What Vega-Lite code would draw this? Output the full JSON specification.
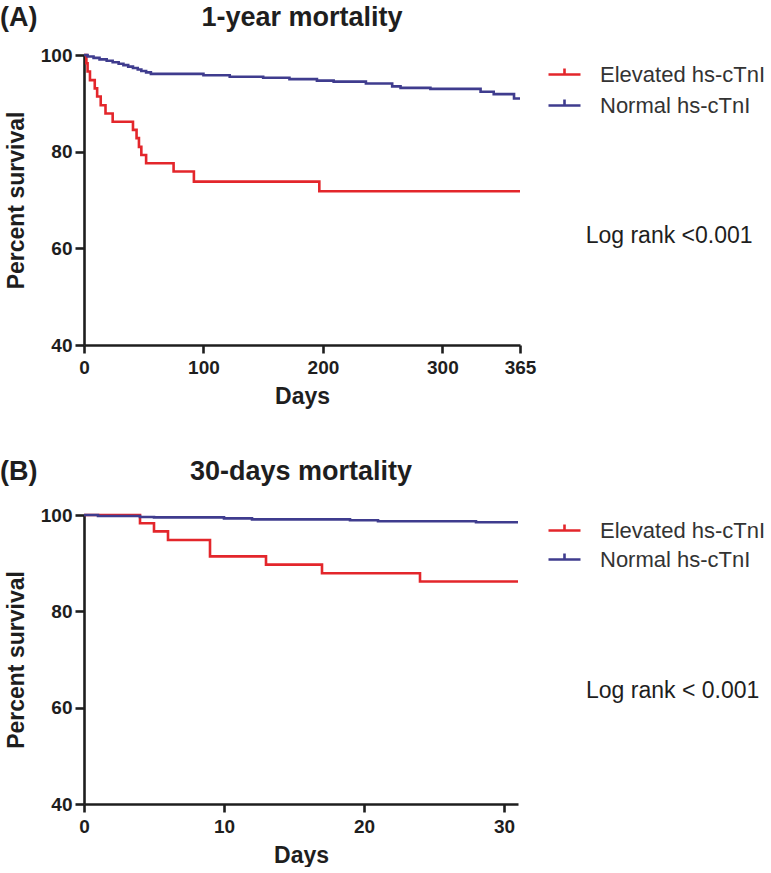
{
  "$schema": "https://vega.github.io/schema/vega-lite/v6.json",
  "padding": {"left": 0, "top": 3, "right": 0, "bottom": 0},
  "background": "white",
  "config": {
    "view": {"stroke": null},
    "font": "Liberation Sans",
    "axis": {
      "grid": false,
      "domainColor": "#1e1e1e",
      "domainWidth": 2.6,
      "tickColor": "#1e1e1e",
      "tickWidth": 2.6,
      "labelFont": "Liberation Sans",
      "labelFontSize": 19,
      "labelFontWeight": "bold",
      "labelColor": "#1e1e1e",
      "titleFont": "Liberation Sans",
      "titleFontSize": 23,
      "titleFontWeight": "bold",
      "titleColor": "#1e1e1e"
    },
    "axisX": {"tickSize": 8, "labelPadding": 5, "titlePadding": 8, "labelFlush": false},
    "axisY": {"tickSize": 9, "labelPadding": 3, "titlePadding": 12},
    "legend": {
      "orient": "none",
      "title": null,
      "symbolType": "M-1,0H1M0,-0.38V0.08",
      "symbolSize": 1024,
      "symbolStrokeWidth": 2.6,
      "labelFont": "Liberation Sans",
      "labelFontSize": 22,
      "labelColor": "#333333",
      "labelOffset": 18,
      "labelLimit": 400,
      "padding": 0,
      "rowPadding": 2
    }
  },
  "spacing": 49,
  "resolve": {"scale": {"color": "independent"}, "legend": {"color": "independent"}},
  "vconcat": [
    {
      "width": 436,
      "height": 290,
      "layer": [
        {
          "data": {"values": [
            {"day": 0, "survival": 100, "group": "Elevated hs-cTnI"},
            {"day": 2, "survival": 98.3, "group": "Elevated hs-cTnI"},
            {"day": 3, "survival": 96.6, "group": "Elevated hs-cTnI"},
            {"day": 5, "survival": 94.8, "group": "Elevated hs-cTnI"},
            {"day": 9, "survival": 93.1, "group": "Elevated hs-cTnI"},
            {"day": 11, "survival": 91.4, "group": "Elevated hs-cTnI"},
            {"day": 14, "survival": 89.6, "group": "Elevated hs-cTnI"},
            {"day": 18, "survival": 87.9, "group": "Elevated hs-cTnI"},
            {"day": 24, "survival": 86.2, "group": "Elevated hs-cTnI"},
            {"day": 41, "survival": 84.5, "group": "Elevated hs-cTnI"},
            {"day": 44, "survival": 82.8, "group": "Elevated hs-cTnI"},
            {"day": 46, "survival": 81.0, "group": "Elevated hs-cTnI"},
            {"day": 48, "survival": 79.3, "group": "Elevated hs-cTnI"},
            {"day": 52, "survival": 77.6, "group": "Elevated hs-cTnI"},
            {"day": 75, "survival": 75.9, "group": "Elevated hs-cTnI"},
            {"day": 92, "survival": 73.8, "group": "Elevated hs-cTnI"},
            {"day": 197, "survival": 71.8, "group": "Elevated hs-cTnI"},
            {"day": 365, "survival": 71.8, "group": "Elevated hs-cTnI"},
            {"day": 0, "survival": 100, "group": "Normal hs-cTnI"},
            {"day": 3, "survival": 99.7, "group": "Normal hs-cTnI"},
            {"day": 8, "survival": 99.4, "group": "Normal hs-cTnI"},
            {"day": 13, "survival": 99.1, "group": "Normal hs-cTnI"},
            {"day": 19, "survival": 98.8, "group": "Normal hs-cTnI"},
            {"day": 24, "survival": 98.5, "group": "Normal hs-cTnI"},
            {"day": 29, "survival": 98.2, "group": "Normal hs-cTnI"},
            {"day": 33, "survival": 97.9, "group": "Normal hs-cTnI"},
            {"day": 37, "survival": 97.6, "group": "Normal hs-cTnI"},
            {"day": 41, "survival": 97.3, "group": "Normal hs-cTnI"},
            {"day": 45, "survival": 97.0, "group": "Normal hs-cTnI"},
            {"day": 48, "survival": 96.7, "group": "Normal hs-cTnI"},
            {"day": 52, "survival": 96.4, "group": "Normal hs-cTnI"},
            {"day": 56, "survival": 96.1, "group": "Normal hs-cTnI"},
            {"day": 100, "survival": 95.8, "group": "Normal hs-cTnI"},
            {"day": 122, "survival": 95.5, "group": "Normal hs-cTnI"},
            {"day": 150, "survival": 95.3, "group": "Normal hs-cTnI"},
            {"day": 172, "survival": 95.0, "group": "Normal hs-cTnI"},
            {"day": 195, "survival": 94.7, "group": "Normal hs-cTnI"},
            {"day": 209, "survival": 94.5, "group": "Normal hs-cTnI"},
            {"day": 236, "survival": 94.1, "group": "Normal hs-cTnI"},
            {"day": 258, "survival": 93.5, "group": "Normal hs-cTnI"},
            {"day": 265, "survival": 93.2, "group": "Normal hs-cTnI"},
            {"day": 290, "survival": 93.0, "group": "Normal hs-cTnI"},
            {"day": 332, "survival": 92.4, "group": "Normal hs-cTnI"},
            {"day": 343, "survival": 91.9, "group": "Normal hs-cTnI"},
            {"day": 360, "survival": 91.0, "group": "Normal hs-cTnI"},
            {"day": 365, "survival": 91.0, "group": "Normal hs-cTnI"}
          ]},
          "mark": {"type": "line", "interpolate": "step-after", "strokeWidth": 2.6},
          "encoding": {
            "x": {"field": "day", "type": "quantitative", "scale": {"domain": [0, 365], "nice": false, "zero": false}, "axis": {"values": [0, 100, 200, 300, 365], "title": "Days"}},
            "y": {"field": "survival", "type": "quantitative", "scale": {"domain": [40, 100], "nice": false, "zero": false}, "axis": {"values": [40, 60, 80, 100], "title": "Percent survival"}},
            "color": {"field": "group", "type": "nominal", "scale": {"domain": ["Elevated hs-cTnI", "Normal hs-cTnI"], "range": ["#e3262b", "#3f3c8e"]}, "legend": {"legendX": 463, "legendY": 2}}
          }
        },
        {
          "data": {"values": [{"label": "Log rank <0.001"}]},
          "mark": {"type": "text", "align": "left", "baseline": "middle", "fontSize": 23, "font": "Liberation Sans", "color": "#1e1e1e"},
          "encoding": {"x": {"datum": 420}, "y": {"datum": 62.5}, "text": {"field": "label"}}
        },
        {
          "data": {"values": [{"label": "(A)"}]},
          "mark": {"type": "text", "align": "left", "baseline": "alphabetic", "fontSize": 27, "fontWeight": "bold", "font": "Liberation Sans", "color": "#1e1e1e"},
          "encoding": {"x": {"datum": -70.3}, "y": {"datum": 106.0}, "text": {"field": "label"}}
        },
        {
          "data": {"values": [{"label": "1-year mortality"}]},
          "mark": {"type": "text", "align": "center", "baseline": "alphabetic", "fontSize": 27, "fontWeight": "bold", "font": "Liberation Sans", "color": "#1e1e1e"},
          "encoding": {"x": {"datum": 182.5}, "y": {"datum": 106.0}, "text": {"field": "label"}}
        }
      ]
    },
    {
      "width": 434,
      "height": 289,
      "layer": [
        {
          "data": {"values": [
            {"day": 0, "survival": 100, "group": "Elevated hs-cTnI"},
            {"day": 4, "survival": 98.3, "group": "Elevated hs-cTnI"},
            {"day": 5, "survival": 96.6, "group": "Elevated hs-cTnI"},
            {"day": 6, "survival": 94.8, "group": "Elevated hs-cTnI"},
            {"day": 9, "survival": 91.4, "group": "Elevated hs-cTnI"},
            {"day": 13, "survival": 89.7, "group": "Elevated hs-cTnI"},
            {"day": 17, "survival": 87.9, "group": "Elevated hs-cTnI"},
            {"day": 24, "survival": 86.2, "group": "Elevated hs-cTnI"},
            {"day": 31, "survival": 86.2, "group": "Elevated hs-cTnI"},
            {"day": 0, "survival": 100, "group": "Normal hs-cTnI"},
            {"day": 1, "survival": 99.8, "group": "Normal hs-cTnI"},
            {"day": 4, "survival": 99.6, "group": "Normal hs-cTnI"},
            {"day": 5, "survival": 99.5, "group": "Normal hs-cTnI"},
            {"day": 10, "survival": 99.3, "group": "Normal hs-cTnI"},
            {"day": 12, "survival": 99.1, "group": "Normal hs-cTnI"},
            {"day": 19, "survival": 98.9, "group": "Normal hs-cTnI"},
            {"day": 21, "survival": 98.7, "group": "Normal hs-cTnI"},
            {"day": 28, "survival": 98.5, "group": "Normal hs-cTnI"},
            {"day": 31, "survival": 98.5, "group": "Normal hs-cTnI"}
          ]},
          "mark": {"type": "line", "interpolate": "step-after", "strokeWidth": 2.6},
          "encoding": {
            "x": {"field": "day", "type": "quantitative", "scale": {"domain": [0, 31], "nice": false, "zero": false}, "axis": {"values": [0, 10, 20, 30], "title": "Days"}},
            "y": {"field": "survival", "type": "quantitative", "scale": {"domain": [40, 100], "nice": false, "zero": false}, "axis": {"values": [40, 60, 80, 100], "title": "Percent survival"}},
            "color": {"field": "group", "type": "nominal", "scale": {"domain": ["Elevated hs-cTnI", "Normal hs-cTnI"], "range": ["#e3262b", "#3f3c8e"]}, "legend": {"legendX": 463, "legendY": -2, "rowPadding": 0}}
          }
        },
        {
          "data": {"values": [{"label": "Log rank < 0.001"}]},
          "mark": {"type": "text", "align": "left", "baseline": "middle", "fontSize": 23, "font": "Liberation Sans", "color": "#1e1e1e"},
          "encoding": {"x": {"datum": 35.86}, "y": {"datum": 63.5}, "text": {"field": "label"}}
        },
        {
          "data": {"values": [{"label": "(B)"}]},
          "mark": {"type": "text", "align": "left", "baseline": "alphabetic", "fontSize": 27, "fontWeight": "bold", "font": "Liberation Sans", "color": "#1e1e1e"},
          "encoding": {"x": {"datum": -6.0}, "y": {"datum": 107.3}, "text": {"field": "label"}}
        },
        {
          "data": {"values": [{"label": "30-days mortality"}]},
          "mark": {"type": "text", "align": "center", "baseline": "alphabetic", "fontSize": 27, "fontWeight": "bold", "font": "Liberation Sans", "color": "#1e1e1e"},
          "encoding": {"x": {"datum": 15.5}, "y": {"datum": 107.3}, "text": {"field": "label"}}
        }
      ]
    }
  ]
}
